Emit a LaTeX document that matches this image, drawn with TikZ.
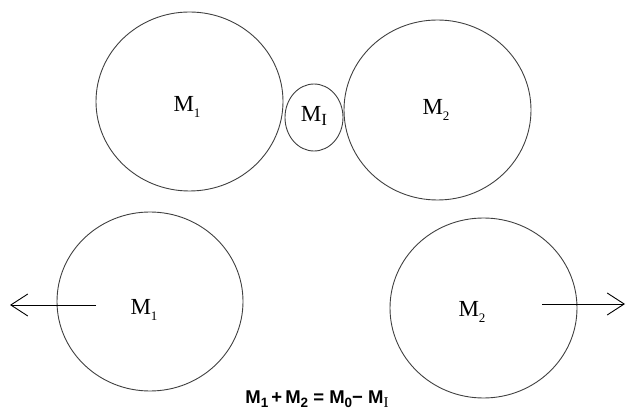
\documentclass[tikz,border=0pt]{standalone}
\usepackage{fontspec}
\setmainfont{Liberation Serif}
\newfontfamily\eqfont{Liberation Sans}
\usetikzlibrary{shapes.geometric,arrows.meta}
\newcommand{\subx}[1]{\raisebox{-0.3em}{\fontsize{13}{13}\selectfont #1}}
\newcommand{\eqsub}[1]{\raisebox{-0.25em}{\fontsize{13.5}{13.5}\selectfont #1}}
\begin{document}
\begin{tikzpicture}[x=1pt,y=-1pt,
  body/.style={ellipse,draw=black!75,line width=0.9pt,inner sep=0pt},
  lbl/.style={inner sep=0pt,font=\fontsize{23}{23}\selectfont},
  arr/.style={line width=0.9pt,-{Straight Barb[length=17pt,width=22pt,line width=0.9pt]}}]
\useasboundingbox (0,0) rectangle (626,411);
% top row
\node[body,minimum width=187pt,minimum height=179pt] (t1) at (189.5,101.5) {};
\node[body,minimum width=187pt,minimum height=180pt] (t2) at (437.5,110) {};
\node[body,minimum width=58pt,minimum height=67pt] (mi) at (314,117.5) {};
\node[lbl] (t1l) at (187,107) {M\subx{1}};
\node[lbl] (t2l) at (436,110) {M\subx{2}};
\node[lbl] (mil) at (314,116) {M\raisebox{-0.2em}{\fontsize{17}{17}\selectfont I}};
% bottom row
\node[body,minimum width=186pt,minimum height=179pt] (b1) at (150,301.5) {};
\node[body,minimum width=187pt,minimum height=180pt] (b2) at (483.5,308) {};
\node[lbl] (b1l) at (144,310) {M\subx{1}};
\node[lbl] (b2l) at (472,312) {M\subx{2}};
% arrows
\coordinate (la0) at (96,305);
\coordinate (la1) at (10,305);
\coordinate (ra0) at (542,304);
\coordinate (ra1) at (625,304);
\draw[arr] (la0) -- (la1);
\draw[arr] (ra0) -- (ra1);
% equation
\node[inner sep=0pt,anchor=base,font=\eqfont\bfseries\fontsize{18.5}{18.5}\selectfont] (eq) at (317,403)
  {M\eqsub{1}\,+\,M\eqsub{2} = M\eqsub{0}\textminus\ M\raisebox{-0.25em}{\rmfamily\mdseries\fontsize{15}{15}\selectfont I}};
\end{tikzpicture}
\end{document}
